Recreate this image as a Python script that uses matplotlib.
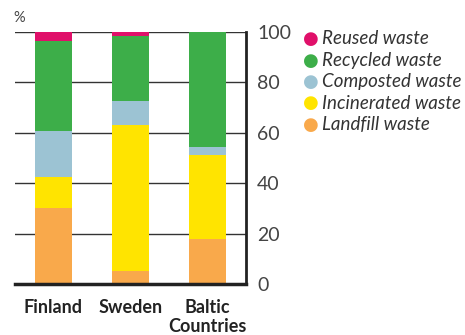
import matplotlib.pyplot as plt
import numpy as np

plt.rcParams['font.family'] = ['Lato', 'DejaVu Sans']

# Waste treatment shares (%) per region
regions = ['Finland', 'Sweden', 'Baltic\nCountries']
landfill = [30, 5, 18]
incinerated = [12.3, 58, 33]
composted = [18.4, 9.6, 3.2]
recycled = [35.7, 25.9, 45.8]
reused = [3.6, 1.5, 0]

series = [
    ('Landfill waste', landfill, '#f9a94b'),
    ('Incinerated waste', incinerated, '#ffe400'),
    ('Composted waste', composted, '#9cc3d3'),
    ('Recycled waste', recycled, '#3dae49'),
    ('Reused waste', reused, '#e0106a'),
]

fig = plt.figure(figsize=(4.65, 3.35), dpi=100)
ax = fig.add_axes([0.032, 0.152, 0.497, 0.753])

x = np.arange(len(regions))
bottom = np.zeros(len(regions))
for name, vals, color in series:
    ax.bar(x, vals, width=0.48, bottom=bottom, color=color, zorder=2)
    bottom += np.array(vals)

ax.set_xlim(-0.5, 2.5)
ax.set_ylim(0, 100)
ax.set_yticks([0, 20, 40, 60, 80, 100])
for y in [20, 40, 60, 80, 100]:
    ax.axhline(y, color='#333333', lw=1.0, zorder=1)

ax.yaxis.tick_right()
ax.tick_params(axis='y', length=0, pad=8, labelsize=14, labelcolor='#444444')
ax.tick_params(axis='x', length=0, pad=11)
ax.set_xticks(x)
ax.set_xticklabels(regions, fontsize=13, fontweight='bold', color='#222222',
                   linespacing=1.15, va='top')

for side in ['top', 'left']:
    ax.spines[side].set_visible(False)
ax.spines['right'].set_linewidth(2)
ax.spines['bottom'].set_linewidth(2.5)
ax.spines['right'].set_color('#222222')
ax.spines['bottom'].set_color('#222222')

fig.text(0.028, 0.945, '%', fontsize=10.5, color='#444444', va='center')

# legend, top entry first
legend_items = list(reversed(series))
for i, (name, vals, color) in enumerate(legend_items):
    yy = 1 - (39 + i * 21.5) / 335
    fig.text(0.668, yy, '\u25CF', color=color, fontsize=13, ha='center', va='center',
             family=['DejaVu Sans'])
    fig.text(0.693, yy, name, fontsize=13.5, style='italic', color='#333333', va='center')

fig.savefig('out.png', dpi=100)
